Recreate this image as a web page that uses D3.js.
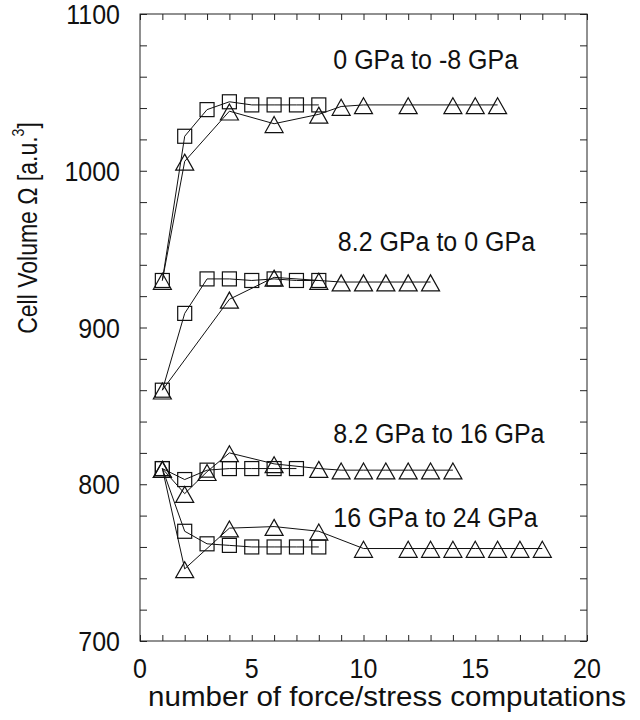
<!DOCTYPE html>
<html>
<head>
<meta charset="utf-8">
<script src="https://cdn.jsdelivr.net/npm/d3@7"></script>
<style>
  body { margin: 0; background: #fff; }
  text { font-family: "Liberation Sans", Arial, Helvetica, sans-serif; fill: #111; }
</style>
</head>
<body>
<div id="chart"></div>
<script>
// Chart size and plot frame
const width = 640;
const height = 720;
const margin = {top: 14, right: 53, bottom: 79, left: 140};

// Data: x = step, y = cell volume
// 0 GPa to -8 GPa
const sq1x = [1, 2, 3, 4, 5, 6, 7, 8];
const sq1y = [930, 1022, 1039, 1044, 1042, 1042, 1042, 1042];
const tri1x = [1, 2, 4, 6, 8, 9, 10, 12, 14, 15, 16];
const tri1y = [930, 1006, 1038, 1030, 1036, 1041, 1042, 1042, 1042, 1042, 1042];

// 8.2 GPa to 0 GPa
const sq2x = [1, 2, 3, 4, 5, 6, 7, 8];
const sq2y = [860, 909, 931, 931, 930, 931, 930, 930];
const tri2x = [1, 4, 6, 8, 9, 10, 11, 12, 13];
const tri2y = [860, 918, 932, 930, 929, 929, 929, 929, 929];

// 8.2 GPa to 16 GPa
const sq3x = [1, 2, 3, 4, 5, 6, 7];
const sq3y = [810, 803, 809, 810, 810, 810, 810];
const tri3x = [1, 2, 3, 4, 6, 8, 9, 10, 11, 12, 13, 14];
const tri3y = [810, 794, 808, 820, 813, 810, 809, 809, 809, 809, 809, 809];

// 16 GPa to 24 GPa
const sq4x = [1, 2, 3, 4, 5, 6, 7, 8];
const sq4y = [810, 770, 762, 761, 760, 760, 760, 760];
const tri4x = [1, 2, 4, 6, 8, 10, 12, 13, 14, 15, 16, 17, 18];
const tri4y = [810, 746, 772, 773, 770, 759, 759, 759, 759, 759, 759, 759, 759];

// Curve labels and where they sit (data coords of text start / baseline)
const labelText = ["0 GPa to -8 GPa", "8.2 GPa to 0 GPa", "8.2 GPa to 16 GPa", "16 GPa to 24 GPa"];
const labelX = [8.65, 8.85, 8.65, 8.65];
const labelY = [1065, 949, 826, 773];

const xTicks = [0, 5, 10, 15, 20];
const yTicks = [700, 800, 900, 1000, 1100];

const series = [
  {x: sq1x, y: sq1y, mark: "square"}, {x: tri1x, y: tri1y, mark: "triangle"},
  {x: sq2x, y: sq2y, mark: "square"}, {x: tri2x, y: tri2y, mark: "triangle"},
  {x: sq3x, y: sq3y, mark: "square"}, {x: tri3x, y: tri3y, mark: "triangle"},
  {x: sq4x, y: sq4y, mark: "square"}, {x: tri4x, y: tri4y, mark: "triangle"}
];

const svg = d3.select('#chart').append('svg')
    .attr('width', width)
    .attr('height', height);

const x = d3.scaleLinear().domain([0, 20]).range([margin.left, width - margin.right]);
const y = d3.scaleLinear().domain([700, 1100]).range([height - margin.bottom, margin.top]);

// the original's lettering is a bit taller than wide
const stretch = 1.12;

// Ticks on all four sides, pointing inward
const minorX = d3.range(0, 21, 1);
const minorY = d3.range(700, 1101, 20);

const tickStyle = g => g.call(s => s.select('.domain').remove())
    .selectAll('line').attr('stroke', '#222').attr('stroke-width', 1);

svg.append('g')
    .attr('transform', `translate(0,${y(700)})`)
    .call(d3.axisTop(x).tickValues(minorX).tickSize(6).tickFormat(''))
    .call(tickStyle);
svg.append('g')
    .attr('transform', `translate(0,${y(1100)})`)
    .call(d3.axisBottom(x).tickValues(minorX).tickSize(6).tickFormat(''))
    .call(tickStyle);
svg.append('g')
    .attr('transform', `translate(${x(0)},0)`)
    .call(d3.axisRight(y).tickValues(minorY).tickSize(7).tickFormat(''))
    .call(tickStyle);
svg.append('g')
    .attr('transform', `translate(${x(20)},0)`)
    .call(d3.axisLeft(y).tickValues(minorY).tickSize(7).tickFormat(''))
    .call(tickStyle);

// Tick labels
svg.append('g').selectAll('text')
    .data(xTicks)
    .join('text')
    .attr('transform', d => `translate(${x(d)},${y(700) + 37}) scale(1,${stretch})`)
    .attr('text-anchor', 'middle')
    .attr('font-size', 25)
    .text(d => d);

svg.append('g').selectAll('text')
    .data(yTicks)
    .join('text')
    .attr('transform', d => `translate(${x(0) - 20},${y(d) + 10}) scale(1,${stretch})`)
    .attr('text-anchor', 'end')
    .attr('font-size', 25)
    .text(d => d);

// Frame
svg.append('rect')
    .attr('x', x(0)).attr('y', y(1100))
    .attr('width', x(20) - x(0)).attr('height', y(700) - y(1100))
    .attr('fill', 'none').attr('stroke', '#222').attr('stroke-width', 1);

// Lines
const line = d3.line().x(d => x(d[0])).y(d => y(d[1]));
svg.append('g').selectAll('path')
    .data(series)
    .join('path')
    .attr('d', s => line(d3.zip(s.x, s.y)))
    .attr('fill', 'none')
    .attr('stroke', '#111')
    .attr('stroke-width', 1);

// Markers (open)
const sqSize = 14;
const triW = 18, triH = 16;
series.forEach(s => {
  const pts = d3.zip(s.x, s.y);
  const g = svg.append('g').attr('fill', 'none').attr('stroke', '#111').attr('stroke-width', 1.2);
  if (s.mark === 'square') {
    g.selectAll('rect').data(pts).join('rect')
      .attr('x', d => x(d[0]) - sqSize / 2)
      .attr('y', d => y(d[1]) - sqSize / 2)
      .attr('width', sqSize).attr('height', sqSize);
  } else {
    g.selectAll('path').data(pts).join('path')
      .attr('d', d => {
        const cx = x(d[0]), cy = y(d[1]);
        return `M${cx},${cy - triH * 0.45}L${cx + triW / 2},${cy + triH * 0.55}L${cx - triW / 2},${cy + triH * 0.55}Z`;
      });
  }
});

// Curve labels
svg.append('g').selectAll('text')
    .data(labelText)
    .join('text')
    .attr('transform', (d, i) => `translate(${x(labelX[i])},${y(labelY[i])}) scale(1,${stretch})`)
    .attr('font-size', 25)
    .text(d => d);

// Axis titles
svg.append('text')
    .attr('transform', `translate(387,706) scale(1,${stretch})`)
    .attr('text-anchor', 'middle')
    .attr('font-size', 24)
    .attr('textLength', 478)
    .attr('lengthAdjust', 'spacingAndGlyphs')
    .text('number of force/stress computations');

const yTitle = svg.append('text')
    .attr('transform', 'translate(37,228) rotate(-90) scale(1,1.2)')
    .attr('text-anchor', 'middle')
    .attr('font-size', 23);
yTitle.append('tspan').text('Cell Volume Ω [a.u.');
yTitle.append('tspan').attr('font-size', 14).attr('dy', -11).text('3');
yTitle.append('tspan').attr('dy', 11).text(']');
</script>
</body>
</html>
